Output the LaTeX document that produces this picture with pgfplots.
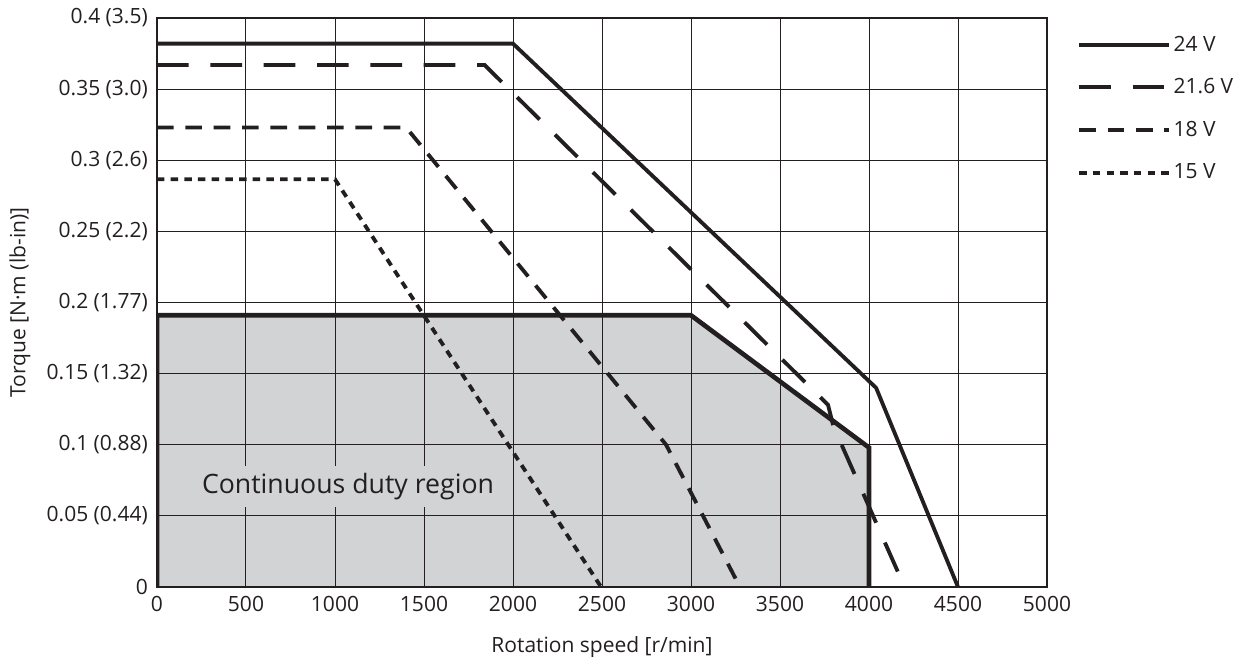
\documentclass[border=0pt]{standalone}
\usepackage{fontspec}
\setmainfont{Open Sans}
\usepackage{pgfplots}
\pgfplotsset{compat=1.18}
\definecolor{ink}{HTML}{231F20}
\definecolor{regiongray}{HTML}{D1D3D4}
\newcommand{\tf}{\fontsize{12.6}{15}\selectfont}
\begin{document}
\begin{tikzpicture}
\begin{axis}[
  set layers,
  scale only axis, width=534pt, height=341.4pt,
  xmin=0, xmax=5000, ymin=0, ymax=0.4,
  xtick={0,500,1000,1500,2000,2500,3000,3500,4000,4500,5000},
  xticklabels={0,500,1000,1500,2000,2500,3000,3500,4000,4500,5000},
  ytick={0,0.05,0.1,0.15,0.2,0.25,0.3,0.35,0.4},
  yticklabels={0,0.05 (0.44),0.1 (0.88),0.15 (1.32),0.2 (1.77),0.25 (2.2),0.3 (2.6),0.35 (3.0),0.4 (3.5)},
  grid=major, major grid style={ink, line width=0.6pt},
  major tick length=0pt,
  axis line style={ink, line width=1.2pt},
  tick label style={font=\tf, text=ink},
  xticklabel style={yshift=-2pt},
  yticklabel style={xshift=-2pt},
  xlabel={Rotation speed [r/min]},
  ylabel={Torque [N·m (lb-in)]},
  every axis x label/.style={at={(axis description cs:0.5,-0.1054)}, anchor=center, font=\tf, text=ink},
  every axis y label/.style={at={(axis description cs:-0.154,0.5)}, rotate=90, anchor=center, font=\tf, text=ink},
  legend image code/.code={\draw (0pt,0pt) -- (54pt,0pt);},
  legend style={draw=none, fill=none, at={(axis description cs:1,1)}, anchor=north west,
    xshift=15pt, yshift=-7pt, font=\tf, text=ink,
    row sep=12pt, nodes={inner sep=1.5pt, font=\tf}},
  legend cell align=left,
]
\addplot[draw=none, fill=regiongray, on layer=axis background, forget plot]
  coordinates {(0,0) (0,0.191) (3000,0.191) (4000,0.098) (4000,0)};
\addplot[ink, line width=2.8pt, forget plot]
  coordinates {(0,0) (0,0.191) (3000,0.191) (4000,0.098) (4000,0)};
\addplot[ink, line width=2.3pt]
  coordinates {(0,0.382) (2000,0.382) (4040,0.14) (4500,0)};
\addplot[ink, line width=2.3pt, dash pattern=on 19pt off 13pt]
  coordinates {(0,0.367) (1840,0.367) (3770,0.128) (3800,0.113) (4200,0)};
\addplot[ink, line width=2.3pt, dash pattern=on 10pt off 7pt]
  coordinates {(0,0.323) (1400,0.323) (2860,0.1) (3275,0)};
\addplot[ink, line width=2.3pt, dash pattern=on 4.5pt off 3.7pt]
  coordinates {(0,0.2866) (1000,0.2866) (2495,0)};
\legend{24 V, 21.6 V, 18 V, 15 V}
\node[fill=regiongray, text=ink, font=\fontsize{16}{19}\selectfont, inner xsep=4pt, inner ysep=0pt, minimum height=24.6pt]
  at (axis cs:1073,0.0705) {Continuous duty region};
\end{axis}
\pgfresetboundingbox
\path[use as bounding box] (-94.2pt,-44.4pt) rectangle (655.8pt,352.2pt);
\end{tikzpicture}
\end{document}
